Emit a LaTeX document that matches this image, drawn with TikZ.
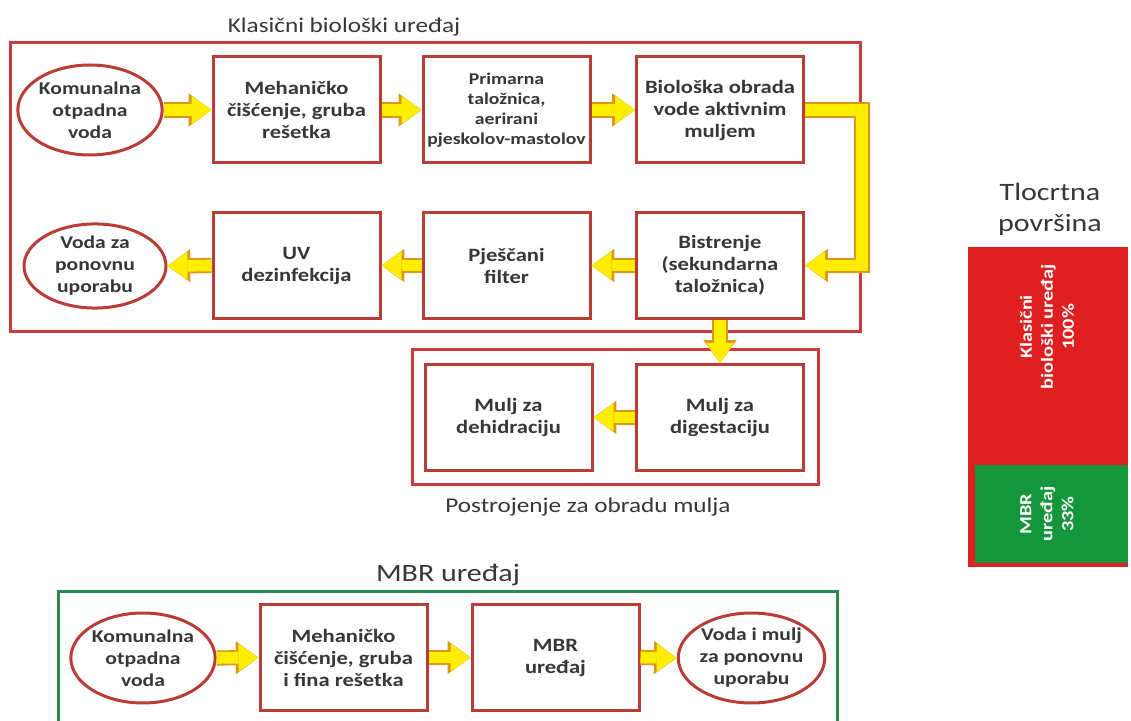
\documentclass[tikz,border=0pt]{standalone}
\usepackage{fontspec}
\setmainfont{Carlito}
\usetikzlibrary{shapes.geometric, arrows.meta}

\definecolor{boxred}{RGB}{185,60,55}
\definecolor{outred}{RGB}{205,60,60}
\definecolor{outgreen}{RGB}{40,140,80}
\definecolor{arrowyel}{RGB}{255,238,0}
\definecolor{arrowedge}{RGB}{220,150,25}
\definecolor{barred}{RGB}{222,32,32}
\definecolor{bargreen}{RGB}{22,150,60}
\definecolor{txtgray}{RGB}{55,55,55}

\newcommand{\wide}{\addfontfeatures{FakeStretch=1.2}}

\tikzset{
  stage/.style={draw=boxred, line width=1.5pt, fill=white, minimum width=83.5pt, minimum height=53pt,
    align=center, text=txtgray, inner sep=1pt, font=\bfseries\fontsize{9.4}{11}\selectfont\wide},
  terminal/.style={ellipse, draw=boxred, line width=1.5pt, fill=white, minimum width=71pt, minimum height=45pt,
    inner sep=0pt, align=center, text=txtgray, font=\bfseries\fontsize{9}{11}\selectfont\wide},
  flow/.style={draw=arrowyel, line width=5.8pt, line join=miter,
    -{Triangle[length=10pt, width=14pt, line width=0pt]},
    preaction={draw=arrowedge, line width=7.6pt, -{Triangle[length=11.4pt, width=16.6pt, line width=0pt]}}},
  heading/.style={text=txtgray, font=\fontsize{10.5}{14}\selectfont\wide},
  bigheading/.style={text=txtgray, font=\fontsize{12.5}{15.5}\selectfont\wide},
  bartext/.style={rotate=90, align=center, text=white, font=\bfseries\fontsize{8.5}{10.5}\selectfont\wide}
}

\begin{document}
\begin{tikzpicture}[x=0.5pt, y=-0.5pt]
\useasboundingbox (0,0) rectangle (1131,721);
\clip (0,0) rectangle (1131,721);
% okviri
\draw[draw=outred, line width=1.5pt] (10,43) rectangle (860,332);
\draw[draw=outred, line width=1.5pt] (412,350) rectangle (818,485);
\draw[draw=outgreen, line width=1.5pt] (58,592) rectangle (837,740);
% naslovi
\node[heading] (t1) at (344,27) {Klasični biološki uređaj};
\node[heading] (t2) at (588,507) {Postrojenje za obradu mulja};
\node[bigheading] (t3) at (448,575) {MBR uređaj};
\node[bigheading, align=center] (t4) at (1050,209) {Tlocrtna\\površina};
% klasični uređaj
\node[terminal] (k1) at (90,110) {Komunalna\\otpadna\\voda};
\node[stage] (m1) at (296.5,110) {Mehaničko\\čišćenje, gruba\\rešetka};
\node[stage, font=\bfseries\fontsize{8.2}{10}\selectfont\wide] (p1) at (506.5,110) {Primarna\\taložnica,\\aerirani\\pjeskolov-mastolov};
\node[stage] (b1) at (720,110) {Biološka obrada\\vode aktivnim\\muljem};
\node[stage] (bis) at (720,265.5) {Bistrenje\\(sekundarna\\taložnica)};
\node[stage] (pf) at (506.5,265.5) {Pješčani\\filter};
\node[stage] (uv) at (296.5,265.5) {UV\\dezinfekcija};
\node[terminal, minimum height=41pt] (vz) at (95,266) {Voda za\\ponovnu\\uporabu};
% mulj
\node[stage] (dig) at (720,417.5) {Mulj za\\digestaciju};
\node[stage] (deh) at (508.5,417.5) {Mulj za\\dehidraciju};
% MBR
\node[terminal] (k2) at (143,658) {Komunalna\\otpadna\\voda};
\node[stage] (m2) at (343.5,657.5) {Mehaničko\\čišćenje, gruba\\i fina rešetka};
\node[stage] (mbr) at (555.5,657.5) {MBR\\uređaj};
\node[terminal] (vm) at (751.5,658) {Voda i mulj\\za ponovnu\\uporabu};
% strelice
\draw[flow] (k1.east) -- (m1.west);
\draw[flow] (m1.east) -- (p1.west);
\draw[flow] (p1.east) -- (b1.west);
\draw[flow] (b1.east) -- ++(57,0) |- (bis.east);
\draw[flow] (bis.west) -- (pf.east);
\draw[flow] (pf.west) -- (uv.east);
\draw[flow] (uv.west) -- (vz.east);
\draw[flow] (bis.south) -- (dig.north);
\draw[flow] (dig.west) -- (deh.east);
\draw[flow] (k2.east) -- (m2.west);
\draw[flow] (m2.east) -- (mbr.west);
\draw[flow] (mbr.east) -- (vm.west);
% tlocrtna površina
\fill[barred] (968,247) rectangle (1128,567);
\fill[bargreen] (975,465) rectangle (1128,563);
\node[bartext] (c1) at (1047,327) {Klasični\\biološki uređaj\\100\%};
\node[bartext] (c2) at (1047,514) {MBR\\uređaj\\33\%};
\end{tikzpicture}
\end{document}
